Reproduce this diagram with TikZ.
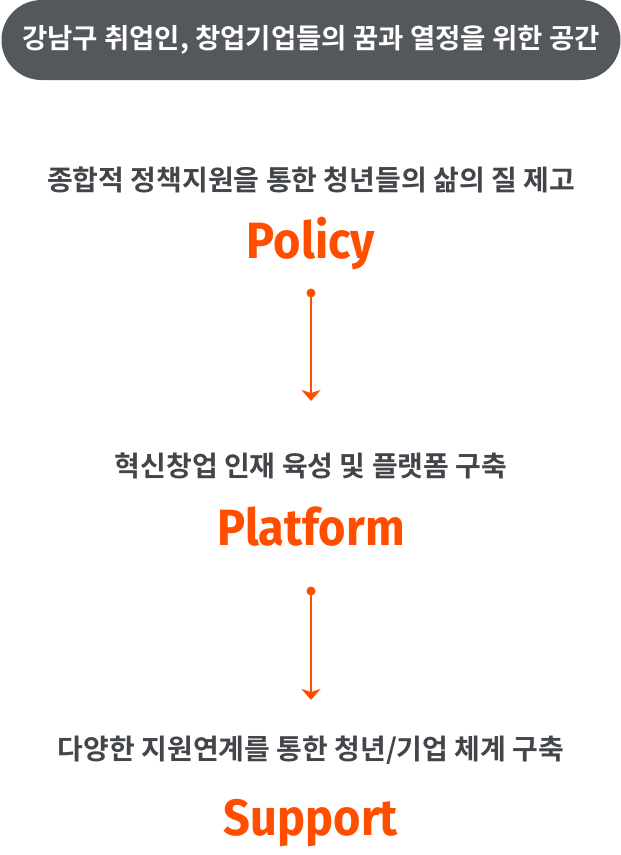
\documentclass[tikz,border=0pt]{standalone}
\usepackage{fontspec}
\usepackage{xcolor}
\usetikzlibrary{arrows.meta,positioning}
\setmainfont{Noto Sans CJK KR}
\newfontfamily\korfont{Noto Sans CJK KR Bold}
\newfontfamily\engfont[FakeStretch=0.92]{Fira Sans}
\definecolor{headgrey}{RGB}{84,87,91}
\definecolor{bodygrey}{RGB}{66,69,73}
\definecolor{flame}{RGB}{255,78,0}
\begin{document}
\begin{tikzpicture}[x=1pt,y=-1pt,
    subline/.style={font=\fontsize{28}{30}\korfont,color=bodygrey,inner sep=0pt},
    keyword/.style={font=\fontsize{51}{54}\engfont\bfseries,color=flame,inner sep=0pt,anchor=base},
    dotnode/.style={circle,fill=flame,inner sep=0pt,minimum size=9pt},
    flow/.style={draw=flame,line width=2.4pt,-{Stealth[width=19pt,length=11pt,inset=3pt]}}]
  \useasboundingbox (0,0) rectangle (621,855);
  \node[fill=headgrey,rounded corners=40pt,minimum width=619pt,minimum height=80pt,
        inner sep=0pt] (head) at (311,40) {};
  \node[font=\fontsize{27.5}{30}\korfont,color=white,inner sep=0pt] (headtext) at (311,40)
    {강남구 취업인, 창업기업들의 꿈과 열정을 위한 공간};
  % three levels
  \node[subline] (policytext) at (311,180) {종합적 정책지원을 통한 청년들의 삶의 질 제고};
  \node[keyword] (policy) at (311,258) {Policy};
  \node[subline] (platformtext) at (311,466) {혁신창업 인재 육성 및 플랫폼 구축};
  \node[keyword] (platform) at (311,545) {Platform};
  \node[subline] (supporttext) at (311,750) {다양한 지원연계를 통한 청년/기업 체계 구축};
  \node[keyword] (support) at (311,835) {Support};
  % arrows
  \node[dotnode] (dotA) at (311,293) {};
  \coordinate (tipA) at (311,401);
  \draw[flow] (dotA.center) -- (tipA);
  \node[dotnode] (dotB) at (311,591) {};
  \coordinate (tipB) at (311,700);
  \draw[flow] (dotB.center) -- (tipB);
\end{tikzpicture}
\end{document}
